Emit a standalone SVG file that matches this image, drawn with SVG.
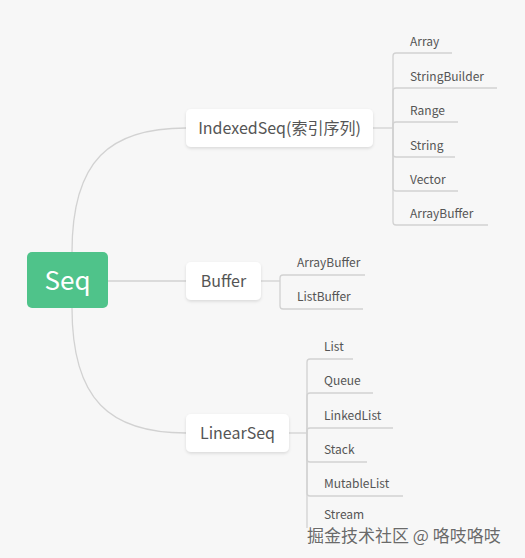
<svg xmlns="http://www.w3.org/2000/svg" width="525" height="558" viewBox="0 0 525 558">
<defs>
<filter id="sh" x="-20%" y="-30%" width="140%" height="170%">
<feDropShadow dx="0" dy="1.5" stdDeviation="1.5" flood-color="#000" flood-opacity="0.12"/>
</filter>
<style>
.ln{fill:none;stroke:#d2d2d2;stroke-width:1.3}
.nd{fill:#fff;filter:url(#sh)}
.t1{font-family:"Noto Sans CJK SC","Noto Sans",sans-serif;font-size:16px;fill:#555;text-anchor:middle}
.t2{font-family:"Noto Sans CJK SC","Noto Sans",sans-serif;font-size:12px;fill:#555}
</style>
</defs>
<rect width="525" height="558" fill="#f7f7f7"/>
<g id="connectors">
<path class="ln" d="M72,252 C72,160 110,128 186,128"/>
<path class="ln" d="M108,281 H186"/>
<path class="ln" d="M72,308 C72,400 110,433 186,433"/>
<path class="ln" d="M373,128 H393"/>
<path class="ln" d="M393,128 V56 Q393,53 396,53 H452"/>
<path class="ln" d="M393,128 V91 Q393,88 396,88 H497"/>
<path class="ln" d="M393,128 V125 Q393,122 396,122 H458"/>
<path class="ln" d="M393,128 V154 Q393,157 396,157 H455"/>
<path class="ln" d="M393,128 V188 Q393,191 396,191 H458"/>
<path class="ln" d="M393,128 V222 Q393,225 396,225 H488"/>
<path class="ln" d="M261,281 H280"/>
<path class="ln" d="M280,281 V278 Q280,275 283,275 H365"/>
<path class="ln" d="M280,281 V306 Q280,309 283,309 H363"/>
<path class="ln" d="M289,433 H307"/>
<path class="ln" d="M307,433 V362 Q307,359 310,359 H353"/>
<path class="ln" d="M307,433 V396 Q307,393 310,393 H373"/>
<path class="ln" d="M307,433 V431 Q307,428 310,428 H393"/>
<path class="ln" d="M307,433 V459 Q307,462 310,462 H367"/>
<path class="ln" d="M307,433 V493 Q307,496 310,496 H403"/>
<path class="ln" d="M307,433 V528"/>
</g>
<g id="seq">
<rect x="27" y="252" width="81" height="56" rx="5" fill="#4fc38a"/>
<text x="67.5" y="290" font-family="'Noto Sans CJK SC','Noto Sans',sans-serif" font-size="26" fill="#fff" text-anchor="middle">Seq</text>
</g>
<g id="indexedseq">
<rect class="nd" x="186" y="109" width="187" height="38" rx="5"/>
<text class="t1" x="279.5" y="134">IndexedSeq(索引序列)</text>
</g>
<g id="buffer">
<rect class="nd" x="186" y="262" width="75" height="38" rx="5"/>
<text class="t1" x="223.5" y="287">Buffer</text>
</g>
<g id="linearseq">
<rect class="nd" x="186" y="414" width="103" height="38" rx="5"/>
<text class="t1" x="237.5" y="439">LinearSeq</text>
</g>
<g id="is-children">
<text class="t2" x="410" y="46">Array</text>
<text class="t2" x="410" y="81">StringBuilder</text>
<text class="t2" x="410" y="115">Range</text>
<text class="t2" x="410" y="150">String</text>
<text class="t2" x="410" y="184">Vector</text>
<text class="t2" x="410" y="218">ArrayBuffer</text>
</g>
<g id="buf-children">
<text class="t2" x="297" y="267">ArrayBuffer</text>
<text class="t2" x="297" y="301">ListBuffer</text>
</g>
<g id="ls-children">
<text class="t2" x="324" y="351">List</text>
<text class="t2" x="324" y="385">Queue</text>
<text class="t2" x="324" y="420">LinkedList</text>
<text class="t2" x="324" y="454">Stack</text>
<text class="t2" x="324" y="488">MutableList</text>
<text class="t2" x="324" y="519">Stream</text>
</g>
<text x="307" y="542" font-family="'Noto Sans CJK SC',sans-serif" font-size="17" fill="#6a6a6a" stroke="#fff" stroke-width="0.6" paint-order="stroke">掘金技术社区 @ 咯吱咯吱</text>
</svg>
